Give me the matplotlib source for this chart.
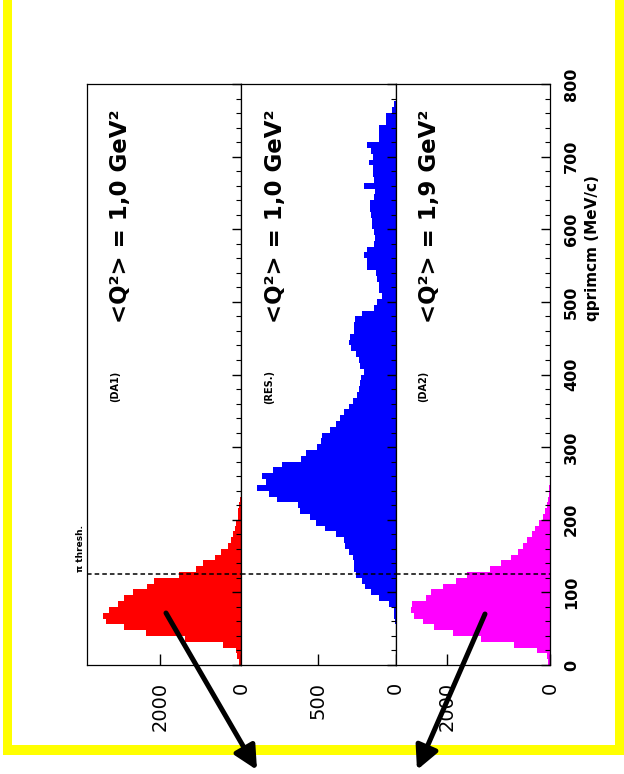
import numpy as np
import matplotlib
matplotlib.use("Agg")
import matplotlib.pyplot as plt
from matplotlib.patches import Rectangle, FancyArrowPatch
from matplotlib.ticker import MultipleLocator
from matplotlib.transforms import blended_transform_factory

# qprimcm histograms, 8 MeV/c bins starting at 0
BIN_W = 8
da1_counts = [60, 110, 140, 455, 1390, 2330, 2880, 3320, 3400, 3260,
              3040, 2890, 2650, 2320, 2150, 1540, 1120, 930, 650, 500,
              320, 250, 195, 150, 130, 90, 90, 50, 25, 10]
res_counts = [0, 0, 0, 0, 0, 0, 0, 3, 8, 11,
              43, 108, 162, 195, 216, 253, 270, 266, 275, 303,
              325, 331, 383, 455, 513, 552, 617, 628, 762, 816,
              894, 838, 859, 790, 732, 610, 580, 505, 483, 476,
              422, 385, 357, 331, 303, 277, 249, 238, 227, 223,
              201, 227, 238, 255, 288, 303, 292, 271, 271, 260,
              216, 140, 119, 87, 108, 108, 119, 125, 184, 184,
              206, 184, 141, 130, 141, 152, 152, 162, 167, 167,
              141, 136, 206, 141, 145, 145, 173, 145, 158, 184,
              108, 108, 108, 65, 65, 22, 11]
da2_counts = [40, 65, 259, 699, 1346, 1890, 2246, 2460, 2640, 2700,
              2690, 2414, 2317, 2084, 1825, 1605, 1165, 951, 764, 615,
              518, 440, 356, 291, 214, 142, 97, 52, 35, 20, 10, 5]

panel_counts = [da1_counts, res_counts, da2_counts]
panel_colors = ["#ff0000", "#0000ff", "#ff00ff"]
panel_tags = ["(DA1)", "(RES.)", "(DA2)"]
panel_q2 = ["1,0", "1,0", "1,9"]
count_ticks = [2000, 500, 2000]
count_max = [3790, 994, 3000]
q_ticks = [0, 100, 200, 300, 400, 500, 600, 700, 800]
PI_THRESH = 125

W, H = 624, 774
fig = plt.figure(figsize=(W / 100, H / 100), dpi=100)


def fpos(x, y):
    # pixel position (from top-left) -> figure fraction
    return x / W, 1 - y / H


panel_w = 463 / 3
axes = []
for i in range(3):
    ax = fig.add_axes([(87 + i * panel_w) / W, 109 / H, panel_w / W, 581 / H])
    counts = panel_counts[i]
    edges = np.arange(len(counts) + 1) * BIN_W
    ax.stairs(counts, edges, orientation="horizontal", fill=True,
              color=panel_colors[i], lw=0)
    ax.set_xlim(count_max[i], 0)
    ax.set_ylim(0, 800)
    ax.axhline(PI_THRESH, color="black", lw=1.1, ls=(0, (3, 2)))

    for s in ax.spines.values():
        s.set_linewidth(0.9)

    # counts axis (along the bottom)
    ax.set_xticks([count_ticks[i], 0])
    ax.set_xticklabels([str(count_ticks[i]), "0"], rotation=90,
                       va="top", ha="center", fontsize=14)
    ax.tick_params(axis="x", direction="in", length=8, width=1, pad=12)

    # qprimcm axis (along the right edge)
    ax.yaxis.tick_right()
    ax.set_yticks(q_ticks)
    ax.yaxis.set_minor_locator(MultipleLocator(20))
    ax.tick_params(axis="y", which="major", direction="in", length=6.5, width=1)
    ax.tick_params(axis="y", which="minor", direction="in", length=3.3, width=0.8)
    if i < 2:
        ax.tick_params(axis="y", labelright=False)
    else:
        ax.tick_params(axis="y", pad=10)
        for t in ax.get_yticklabels():
            t.set_rotation(90)
            t.set_va("center")
            t.set_ha("left")
            t.set_fontsize(11.5)
            t.set_fontweight("bold")

    ax.text(0.22, 0.773, "<Q²> = " + panel_q2[i] + " GeV²", transform=ax.transAxes,
            rotation=90, ha="center", va="center", fontsize=16.5, fontweight="bold")
    ax.text(0.18, 0.479, panel_tags[i], transform=ax.transAxes,
            rotation=90, ha="center", va="center", fontsize=7, fontweight="bold")
    axes.append(ax)

trans = blended_transform_factory(axes[0].transAxes, axes[0].transData)
axes[0].text(-0.045, PI_THRESH + 3, "π thresh.", transform=trans, rotation=90,
             ha="center", va="bottom", fontsize=6.5, fontweight="bold", clip_on=False)

fig.text(*fpos(593, 175), "qprimcm (MeV/c)", rotation=90, ha="center", va="top",
         fontsize=11, fontweight="bold")

# yellow frame
yellow = "#ffff00"
for x0, y0, w, h in [(3, 0, 9, 755), (615, 0, 9, 755), (3, 745, 621, 10)]:
    fig.add_artist(Rectangle((x0 / W, 1 - (y0 + h) / H), w / W, h / H,
                             transform=fig.transFigure, color=yellow, lw=0, zorder=5))

# arrows pointing out of the DA1 and DA2 peaks
for start, tip in [((166, 613), (257, 770)), ((485, 614), (417, 770))]:
    fig.add_artist(FancyArrowPatch(fpos(*start), fpos(*tip), transform=fig.transFigure,
                                   arrowstyle="-|>,head_length=0.7,head_width=0.35",
                                   mutation_scale=20, lw=3.6, color="black",
                                   shrinkA=0, shrinkB=0, zorder=10))

fig.savefig("out.png", dpi=100)
